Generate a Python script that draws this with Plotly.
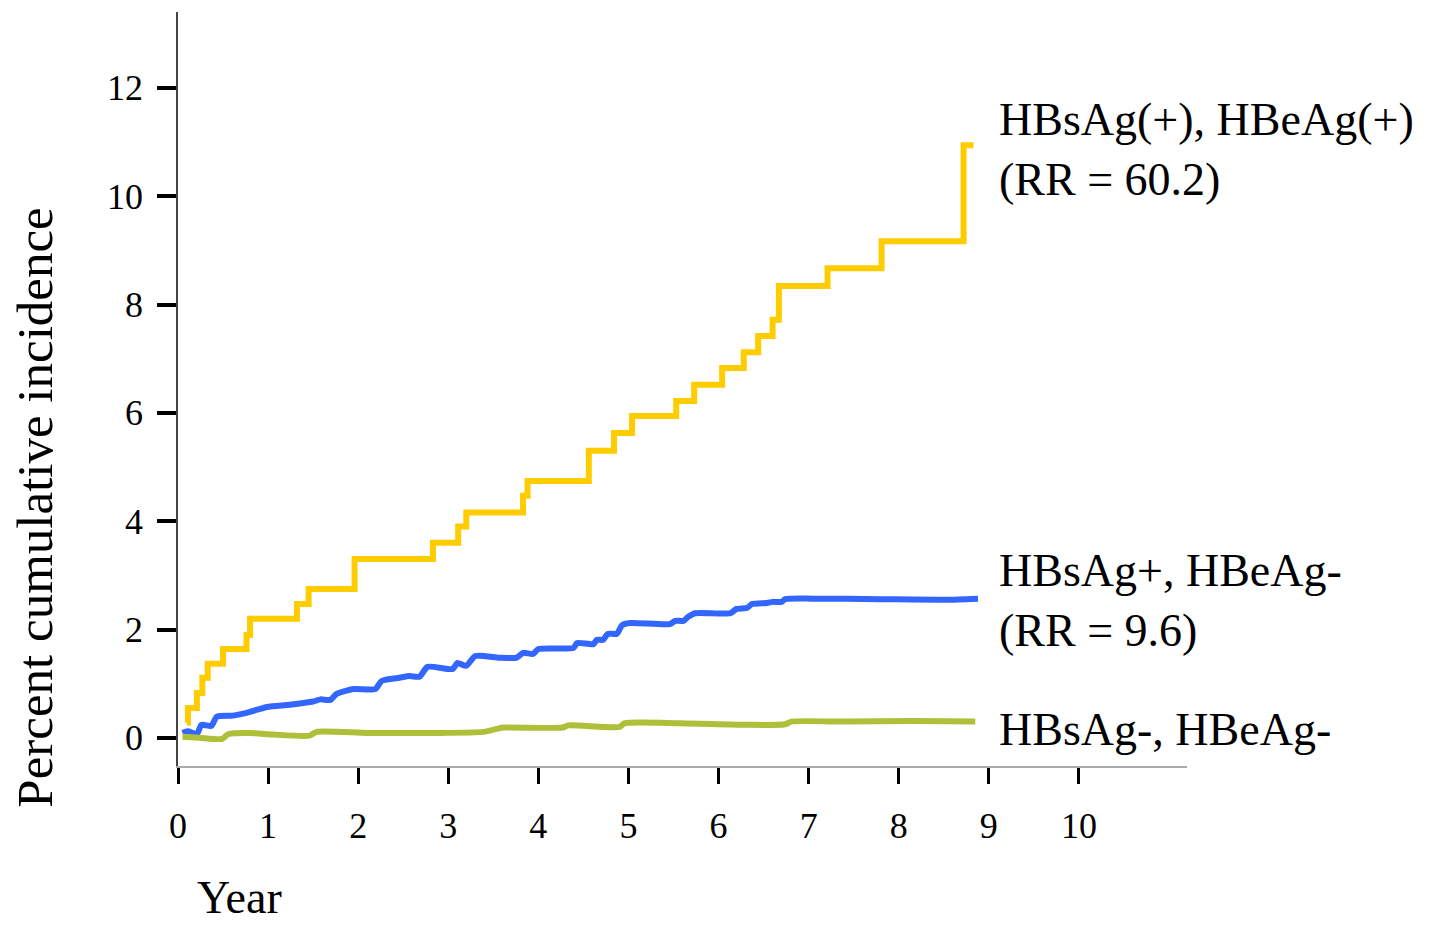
import plotly.graph_objects as go

# ---- data ----
yellow_x = [0.10, 0.11, 0.21, 0.27, 0.33, 0.50, 0.76, 0.80, 1.32, 1.45, 1.96, 2.83, 3.11, 3.20,
            3.83, 3.88, 4.56, 4.84, 5.04, 5.53, 5.73, 6.04, 6.28, 6.44, 6.60, 6.67, 7.21, 7.81,
            8.72, 8.83]
yellow_y = [0.28, 0.55, 0.83, 1.11, 1.37, 1.64, 1.90, 2.20, 2.47, 2.75, 3.30, 3.60, 3.90, 4.16,
            4.47, 4.74, 5.30, 5.63, 5.94, 6.22, 6.52, 6.83, 7.12, 7.42, 7.72, 8.34, 8.67, 9.17,
            10.94, 10.94]

blue_x = [0.05, 0.11, 0.21, 0.26, 0.37, 0.43, 0.61, 0.80, 0.99, 1.24, 1.50, 1.58, 1.69, 1.76,
          1.95, 2.19, 2.26, 2.46, 2.57, 2.68, 2.77, 3.05, 3.10, 3.20, 3.30, 3.57, 3.76, 3.83,
          3.94, 4.00, 4.39, 4.43, 4.61, 4.65, 4.72, 4.77, 4.87, 4.93, 5.02, 5.46, 5.52, 5.61,
          5.66, 5.74, 6.13, 6.20, 6.32, 6.37, 6.54, 6.60, 6.70, 6.74, 7.05, 7.79, 8.53, 8.88]
blue_y = [0.09, 0.12, 0.07, 0.24, 0.22, 0.39, 0.41, 0.48, 0.57, 0.61, 0.67, 0.71, 0.70, 0.81,
          0.90, 0.90, 1.05, 1.11, 1.14, 1.13, 1.31, 1.27, 1.38, 1.33, 1.51, 1.48, 1.48, 1.57,
          1.55, 1.64, 1.66, 1.75, 1.73, 1.81, 1.81, 1.92, 1.92, 2.08, 2.12, 2.10, 2.16, 2.16,
          2.23, 2.30, 2.30, 2.38, 2.40, 2.47, 2.49, 2.51, 2.51, 2.56, 2.57, 2.56, 2.55, 2.57]

green_x = [0.05, 0.24, 0.49, 0.56, 0.80, 1.06, 1.46, 1.54, 2.10, 2.83, 3.39, 3.55, 3.61, 4.27,
           4.33, 4.90, 4.96, 5.57, 6.31, 6.74, 6.81, 7.42, 8.16, 8.85]
green_y = [0.02, 0.00, -0.02, 0.07, 0.09, 0.06, 0.04, 0.11, 0.09, 0.09, 0.11, 0.17, 0.19, 0.19,
           0.23, 0.20, 0.27, 0.27, 0.24, 0.25, 0.30, 0.30, 0.31, 0.30]

x_ticks = [0, 1, 2, 3, 4, 5, 6, 7, 8, 9, 10]
y_ticks = [0, 2, 4, 6, 8, 10, 12]

labels = ["HBsAg(+), HBeAg(+)<br>(RR = 60.2)", "HBsAg+, HBeAg-<br>(RR = 9.6)", "HBsAg-, HBeAg-"]
label_y = [10.87, 2.53, 0.15]

FONT = "Liberation Serif"
YELLOW = "#FFCC00"
BLUE = "#3366FF"
GREEN = "#AEBF3A"

fig = go.Figure()
fig.add_trace(go.Scatter(x=yellow_x, y=yellow_y, mode="lines", line=dict(color=YELLOW, width=6, shape="hv"),
                         showlegend=False, hoverinfo="skip"))
fig.add_trace(go.Scatter(x=blue_x, y=blue_y, mode="lines", line=dict(color=BLUE, width=6, shape="spline", smoothing=0.6),
                         showlegend=False, hoverinfo="skip"))
fig.add_trace(go.Scatter(x=green_x, y=green_y, mode="lines", line=dict(color=GREEN, width=6, shape="spline", smoothing=0.6),
                         showlegend=False, hoverinfo="skip"))

for txt, yy in zip(labels, label_y):
    fig.add_annotation(x=9.09, y=yy, xref="x", yref="y", text=txt, showarrow=False,
                       xanchor="left", yanchor="middle", align="left",
                       font=dict(family=FONT, size=46, color="black"))

fig.add_annotation(x=-0.1412, y=0.342, xref="paper", yref="paper", text="Percent cumulative incidence",
                   textangle=-90, showarrow=False, xanchor="center", yanchor="middle",
                   font=dict(family=FONT, size=51, color="black"))
fig.add_annotation(x=0.0605, y=-0.175, xref="paper", yref="paper", text="Year",
                   showarrow=False, xanchor="center", yanchor="middle",
                   font=dict(family=FONT, size=46, color="black"))

fig.update_xaxes(range=[0, 11.2], tickvals=x_ticks, ticktext=[str(v) for v in x_ticks],
                 showgrid=False, zeroline=False, showline=True, linecolor="#AAAAAA", linewidth=2,
                 ticks="outside", ticklen=16, tickwidth=3, tickcolor="black",
                 ticklabelstandoff=11,
                 tickfont=dict(family=FONT, size=36, color="black"))
fig.update_yaxes(range=[-0.52, 13.4], tickvals=y_ticks, ticktext=[str(v) for v in y_ticks],
                 showgrid=False, zeroline=False, showline=True, linecolor="#444444", linewidth=1.5,
                 ticks="outside", ticklen=19, tickwidth=4, tickcolor="black",
                 ticklabelstandoff=7,
                 tickfont=dict(family=FONT, size=36, color="black"))

fig.update_layout(width=1427, height=919, margin=dict(l=170, r=248, t=4, b=161),
                  plot_bgcolor="white", paper_bgcolor="white")

fig.write_html("out.html")
